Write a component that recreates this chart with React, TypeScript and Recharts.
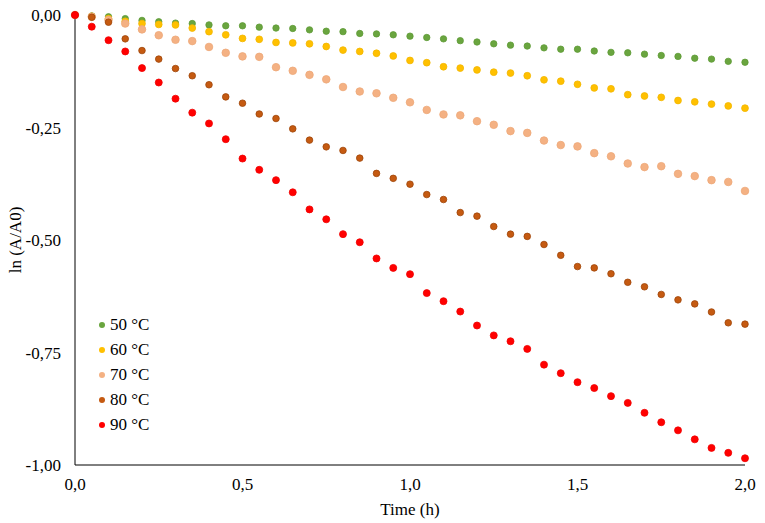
import React from "react"
import {
  Scatter,
  ScatterChart,
  XAxis,
  YAxis,
} from "recharts"

const times = [
  0, 0.05, 0.1, 0.15, 0.2, 0.25, 0.3, 0.35, 0.4, 0.45, 0.5, 0.55, 0.6, 0.65,
  0.7, 0.75, 0.8, 0.85, 0.9, 0.95, 1.0, 1.05, 1.1, 1.15, 1.2, 1.25, 1.3, 1.35,
  1.4, 1.45, 1.5, 1.55, 1.6, 1.65, 1.7, 1.75, 1.8, 1.85, 1.9, 1.95, 2.0,
]

const t50 = [
  0, -0.002, -0.004, -0.008, -0.012, -0.015, -0.018, -0.019, -0.022, -0.024,
  -0.024, -0.027, -0.029, -0.03, -0.033, -0.036, -0.037, -0.041, -0.042, -0.044,
  -0.047, -0.05, -0.053, -0.057, -0.06, -0.064, -0.067, -0.069, -0.073, -0.076,
  -0.076, -0.08, -0.083, -0.084, -0.087, -0.09, -0.092, -0.096, -0.098, -0.103,
  -0.105,
]

const t60 = [
  0, -0.003, -0.008, -0.014, -0.019, -0.021, -0.022, -0.029, -0.037, -0.044,
  -0.052, -0.054, -0.061, -0.062, -0.064, -0.07, -0.078, -0.081, -0.085, -0.091,
  -0.101, -0.106, -0.115, -0.118, -0.122, -0.127, -0.129, -0.135, -0.144, -0.147,
  -0.154, -0.162, -0.164, -0.177, -0.18, -0.183, -0.19, -0.193, -0.198, -0.202,
  -0.207,
]

const t70 = [
  0, -0.004, -0.011, -0.019, -0.032, -0.045, -0.055, -0.058, -0.071, -0.084,
  -0.092, -0.093, -0.116, -0.124, -0.133, -0.143, -0.16, -0.17, -0.174, -0.184,
  -0.194, -0.211, -0.221, -0.223, -0.236, -0.244, -0.258, -0.262, -0.279, -0.289,
  -0.292, -0.307, -0.314, -0.33, -0.338, -0.336, -0.353, -0.358, -0.367, -0.371,
  -0.391,
]

const t80 = [
  0, -0.005, -0.016, -0.053, -0.079, -0.098, -0.119, -0.135, -0.155, -0.182,
  -0.196, -0.22, -0.23, -0.253, -0.278, -0.293, -0.301, -0.318, -0.352, -0.363,
  -0.376, -0.399, -0.41, -0.439, -0.447, -0.47, -0.487, -0.492, -0.51, -0.534,
  -0.559, -0.562, -0.575, -0.594, -0.604, -0.621, -0.633, -0.642, -0.66, -0.684,
  -0.687,
]

const t90 = [
  0, -0.026, -0.056, -0.081, -0.118, -0.15, -0.186, -0.217, -0.241, -0.276,
  -0.319, -0.344, -0.367, -0.394, -0.432, -0.454, -0.487, -0.505, -0.541, -0.562,
  -0.576, -0.618, -0.636, -0.659, -0.69, -0.712, -0.725, -0.742, -0.777, -0.796,
  -0.816, -0.829, -0.847, -0.862, -0.884, -0.905, -0.923, -0.943, -0.962, -0.973,
  -0.985,
]

const xTicks = [0, 0.5, 1, 1.5, 2]
const yTicks = [-1, -0.75, -0.5, -0.25, 0]

const series = [
  { name: "50 °C", values: t50, fill: "#6AA53F", stroke: "#5E9A36", r: 3.2 },
  { name: "60 °C", values: t60, fill: "#FFC000", stroke: "#F2B600", r: 3.4 },
  { name: "70 °C", values: t70, fill: "#F4B183", stroke: "#EEA878", r: 3.8 },
  { name: "80 °C", values: t80, fill: "#C55A11", stroke: "#9E4509", r: 3.3 },
  { name: "90 °C", values: t90, fill: "#FF0000", stroke: "#F00000", r: 3.5 },
]

const font = "'Liberation Serif', 'Times New Roman', serif"
const comma = (v: number, d: number) => v.toFixed(d).replace(".", ",")
const textStyle = { fill: "#000", fontSize: 17, fontFamily: font }

const dot = (r: number, fill: string, stroke: string) => (props: any) => (
  <circle cx={props.cx} cy={props.cy} r={r} fill={fill} stroke={stroke} strokeWidth={0.8} />
)

// legend sits inside the plot, so it is drawn as an overlay and takes no space
function LegendBox() {
  return (
    <div
      style={{
        position: "absolute",
        left: 97,
        top: 312,
        fontFamily: font,
        fontSize: 17,
        color: "#000",
      }}
    >
      {series.map((s) => (
        <div key={s.name} style={{ height: 25.2, display: "flex", alignItems: "center" }}>
          <svg width={10} height={10} style={{ marginRight: 3 }}>
            <circle cx={5} cy={5} r={3} fill={s.fill} />
          </svg>
          <span>{s.name}</span>
        </div>
      ))}
    </div>
  )
}

export default function App() {
  return (
    <div style={{ position: "absolute", left: 0, top: 0, width: 765, height: 523, background: "#fff" }}>
      <ScatterChart
        width={765}
        height={523}
        margin={{ top: 15, right: 20, bottom: 6, left: 10 }}
      >
        <XAxis
          type="number"
          dataKey="x"
          domain={[0, 2]}
          ticks={xTicks}
          tickFormatter={(v: number) => comma(v, 1)}
          tickLine={false}
          tickMargin={7}
          height={52}
          stroke="#000"
          tick={textStyle}
          label={{ value: "Time (h)", position: "insideBottom", offset: 2, style: textStyle }}
        />
        <YAxis
          type="number"
          dataKey="y"
          domain={[-1, 0]}
          ticks={yTicks}
          tickFormatter={(v: number) => comma(v, 2)}
          tickLine={false}
          tickMargin={8}
          width={65}
          stroke="#000"
          tick={textStyle}
          label={{
            value: "ln (A/A0)",
            angle: -90,
            position: "insideLeft",
            offset: 5,
            style: { ...textStyle, textAnchor: "middle" },
          }}
        />
        {series.map((s) => (
          <Scatter
            key={s.name}
            name={s.name}
            data={times.map((x, i) => ({ x, y: s.values[i] }))}
            fill={s.fill}
            shape={dot(s.r, s.fill, s.stroke)}
            isAnimationActive={false}
          />
        ))}
      </ScatterChart>
      <LegendBox />
    </div>
  )
}
